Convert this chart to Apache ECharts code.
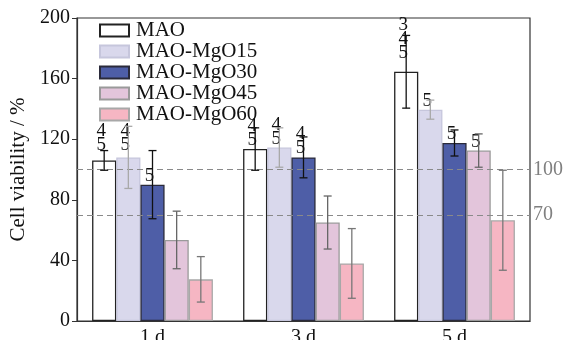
<!DOCTYPE html>
<html><head><meta charset="utf-8">
<script src="https://cdn.jsdelivr.net/npm/echarts@6/dist/echarts.min.js"></script>
<style>html,body{margin:0;padding:0;background:#fff}#c{width:571px;height:340px}</style>
</head><body><div id="c"></div>
<script>
// ---- data ----
const categories = ['1 d', '3 d', '5 d'];
const seriesNames = ['MAO', 'MAO-MgO15', 'MAO-MgO30', 'MAO-MgO45', 'MAO-MgO60'];
const maoValues = [106, 113.5, 164.5];
const maoErr = [6.5, 14, 24];
const mgo15Values = [108, 114.5, 139.5];
const mgo15Err = [20.5, 13, 6.3];
const mgo30Values = [90, 108, 117.5];
const mgo30Err = [22.5, 13.5, 8.6];
const mgo45Values = [53.5, 65, 112.5];
const mgo45Err = [19, 17.5, 11];
const mgo60Values = [27.5, 38, 66.5];
const mgo60Err = [15, 23, 33];
const maoSig = ['4\n5', '4\n5', '3\n4\n5'];
const mgo15Sig = ['4\n5', '4\n5', '5'];
const mgo30Sig = ['5', '4\n5', '5'];
const mgo45Sig = ['', '', '5'];
const mgo60Sig = ['', '', ''];
const refLines = [100, 70];
const yTicks = [0, 40, 80, 120, 160, 200];

// ---- styles ----
const FONT = '"Liberation Serif", "Times New Roman", serif';
const fills = ['#ffffff', '#d9d8ec', '#4e5ea7', '#e3c5db', '#f6b6c3'];
const borders = ['#222222', '#c6c6dc', '#2a2a3a', '#9a9a9a', '#a8a8a8'];
const errColors = ['#111111', '#a8a8a8', '#111111', '#666666', '#777777'];
// extra label lift (px) per series/category, purely presentational
const labelLift = [[6, 0, 10], [3, 0, 0], [0, 0, 0], [0, 0, 0], [0, 0, 0]];

const values = [maoValues, mgo15Values, mgo30Values, mgo45Values, mgo60Values];
const errs = [maoErr, mgo15Err, mgo30Err, mgo45Err, mgo60Err];
const sigs = [maoSig, mgo15Sig, mgo30Sig, mgo45Sig, mgo60Sig];

const series = [];
values.forEach((vals, si) => {
  const s = {
    name: seriesNames[si], type: 'bar', barGap: '0%', barCategoryGap: '20%',
    itemStyle: { color: fills[si], borderColor: borders[si], borderWidth: 1.3 },
    data: vals.map((v, ci) => ({
      value: v,
      label: {
        show: sigs[si][ci] !== '', formatter: sigs[si][ci], position: 'top',
        distance: 2 + labelLift[si][ci], offset: [-3, 0],
        fontFamily: FONT, fontSize: 19, lineHeight: 14, color: '#111'
      }
    })),
    z: 2
  };
  if (si === 0) {
    s.markLine = {
      silent: true, symbol: 'none',
      lineStyle: { color: '#8a8a8a', type: [6, 4], width: 1.2 },
      label: { position: 'end', formatter: '{c}', color: '#808080', fontFamily: FONT, fontSize: 20, distance: 3 },
      data: refLines.map(v => ({ yAxis: v }))
    };
  }
  series.push(s);
});
values.forEach((vals, si) => {
  series.push({
    type: 'custom', z: 5, silent: true,
    data: vals.map((v, ci) => [ci, v, errs[si][ci]]),
    encode: { x: 0, y: 1 },
    renderItem: function (params, api) {
      const ci = api.value(0), v = api.value(1), e = api.value(2);
      const c = api.coord([ci, v]);
      const bw = api.size([1, 0])[0] * 0.8 / 5;
      const x = c[0] + (si - 2) * bw;
      const yh = api.coord([ci, v + e])[1];
      const yl = api.coord([ci, v - e])[1];
      const st = { stroke: errColors[si], lineWidth: 1.3 };
      const cap = 4;
      return { type: 'group', children: [
        { type: 'line', shape: { x1: x, y1: yh, x2: x, y2: yl }, style: st },
        { type: 'line', shape: { x1: x - cap, y1: yh, x2: x + cap, y2: yh }, style: st },
        { type: 'line', shape: { x1: x - cap, y1: yl, x2: x + cap, y2: yl }, style: st }
      ]};
    }
  });
});

const chart = echarts.init(document.getElementById('c'), null, { renderer: 'canvas' });
chart.setOption({
  animation: false,
  backgroundColor: '#fff',
  grid: { left: 77, right: 41, top: 18, bottom: 19, show: true, borderColor: '#333', borderWidth: 1.2, backgroundColor: 'transparent', containLabel: false, outerBoundsMode: 'none' },
  legend: {
    orient: 'vertical', left: 99, top: 20, padding: 0, itemGap: 0,
    itemWidth: 29, itemHeight: 12, icon: 'rect',
    textStyle: { fontFamily: FONT, fontSize: 21, lineHeight: 19, color: '#111', padding: [0, 0, 0, 2] },
    data: seriesNames
  },
  xAxis: {
    type: 'category', data: categories,
    axisLine: { lineStyle: { color: '#333', width: 1.2 } },
    axisTick: { show: false },
    axisLabel: { fontFamily: FONT, fontSize: 20, color: '#111', margin: 7 }
  },
  yAxis: {
    type: 'value', min: yTicks[0], max: yTicks[yTicks.length - 1], interval: yTicks[1] - yTicks[0],
    name: 'Cell viability / %', nameLocation: 'middle', nameGap: 39,
    nameTextStyle: { fontFamily: FONT, fontSize: 21, color: '#111' },
    axisLine: { show: true, lineStyle: { color: '#333', width: 1.2 } },
    axisTick: { show: true, inside: false, length: 5, lineStyle: { color: '#333' } },
    axisLabel: { fontFamily: FONT, fontSize: 20, color: '#111', margin: 7 },
    splitLine: { show: false }
  },
  series: series
});
</script></body></html>
